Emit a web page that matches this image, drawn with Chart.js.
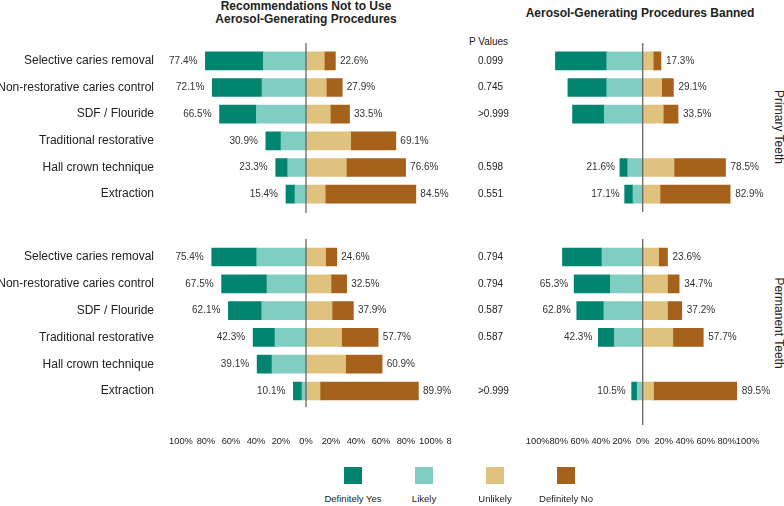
<!DOCTYPE html>
<html>
<head>
<meta charset="utf-8">
<script src="https://cdn.jsdelivr.net/npm/chart.js@4.4.1/dist/chart.umd.min.js"></script>
<style>
  html, body { margin:0; padding:0; background:#fff; }
  body { width:784px; height:506px; position:relative; overflow:hidden; font-family:"Liberation Sans", Arial, sans-serif; color:#222; }
  canvas { position:absolute; }
  .t { position:absolute; white-space:nowrap; color:#222; }
  .title { font-weight:bold; font-size:12px; line-height:13px; text-align:center; transform:translateX(-50%); }
  .side { font-size:12px; transform:translate(-50%,-50%) rotate(90deg); }
  .sw { position:absolute; width:18px; height:17px; }
  .lg { font-size:9.5px; line-height:12px; transform:translateX(-50%); }
</style>
</head>
<body>
<div class="t title" style="left:306px; top:-0.5px;">Recommendations Not to Use<br>Aerosol-Generating Procedures</div>
<div class="t title" style="left:640px; top:6.5px;">Aerosol-Generating Procedures Banned</div>
<div class="t" style="left:469px; top:36px; font-size:10px; line-height:12px;">P Values</div>
<div class="t side" style="left:779px; top:127px;">Primary Teeth</div>
<div class="t side" style="left:779px; top:323px;">Permanent Teeth</div>

<canvas id="lp" width="450" height="230" style="left:0px; top:0px;"></canvas>
<canvas id="lm" width="470" height="240" style="left:0px; top:220px;"></canvas>
<canvas id="rp" width="324" height="230" style="left:460px; top:0px;"></canvas>
<canvas id="rm" width="324" height="240" style="left:460px; top:220px;"></canvas>

<div id="legend"></div>

<script>
// ---------- DATA ----------
const categories = ['Selective caries removal','Non-restorative caries control','SDF / Flouride','Traditional restorative','Hall crown technique','Extraction'];
const seriesNames = ['Definitely Yes','Likely','Unlikely','Definitely No'];
const seriesColors = ['#018571','#80cdc1','#dfc27d','#a6611a'];

// Recommendations not to use AGP - primary teeth
const recPrimaryDefYes   = [44.6, 38.3, 28.3, 11.7,  9.2,  6.9];
const recPrimaryLikely   = [32.8, 33.8, 38.2, 19.2, 14.1,  8.5];
const recPrimaryUnlikely = [14.1, 15.6, 18.7, 34.4, 31.0, 14.8];
const recPrimaryDefNo    = [ 8.5, 12.3, 14.8, 34.7, 45.6, 69.7];
const recPrimaryYesLabels = [77.4, 72.1, 66.5, 30.9, 23.3, 15.4];
const recPrimaryNoLabels  = [22.6, 27.9, 33.5, 69.1, 76.6, 84.5];

// Recommendations not to use AGP - permanent teeth
const recPermDefYes   = [36.0, 36.3, 26.7, 17.5, 11.9,  6.9];
const recPermLikely   = [39.4, 31.2, 35.4, 24.8, 27.2,  3.2];
const recPermUnlikely = [15.7, 20.0, 20.8, 28.5, 31.7, 11.2];
const recPermDefNo    = [ 8.9, 12.5, 17.1, 29.2, 29.2, 78.7];
const recPermYesLabels = [75.4, 67.5, 62.1, 42.3, 39.1, 10.1];
const recPermNoLabels  = [24.6, 32.5, 37.9, 57.7, 60.9, 89.9];

// AGP banned - primary teeth
const banPrimaryDefYes   = [48.6, 36.8, 30.1, null,  7.4,  7.9];
const banPrimaryLikely   = [34.1, 34.1, 36.4, null, 14.2,  9.2];
const banPrimaryUnlikely = [10.0, 18.0, 19.5, null, 29.7, 16.4];
const banPrimaryDefNo    = [ 7.3, 11.1, 14.0, null, 48.8, 66.5];
const banPrimaryYesLabels = [null, null, null, null, 21.6, 17.1];
const banPrimaryNoLabels  = [17.3, 29.1, 33.5, null, 78.5, 82.9];

// AGP banned - permanent teeth
const banPermDefYes   = [37.6, 34.5, 25.9, 15.4, null,  5.3];
const banPermLikely   = [38.8, 30.8, 36.9, 26.9, null,  5.2];
const banPermUnlikely = [15.1, 23.6, 23.6, 28.7, null, 10.3];
const banPermDefNo    = [ 8.5, 11.1, 13.6, 29.0, null, 79.2];
const banPermYesLabels = [null, 65.3, 62.8, 42.3, null, 10.5];
const banPermNoLabels  = [23.6, 34.7, 37.2, 57.7, null, 89.5];

// P values
const pValuesPrimary   = ['0.099','0.745','>0.999','','0.598','0.551'];
const pValuesPermanent = ['0.794','0.794','0.587','0.587','','>0.999'];

// Axis ticks
const recTickValues = [-100,-80,-60,-40,-20,0,20,40,60,80,100,114.4];
const recTickLabels = ['100%','80%','60%','40%','20%','0%','20%','40%','60%','80%','100%','8'];
const banTickValues = [-100,-80,-60,-40,-20,0,20,40,60,80,100];
const banTickLabels = ['100%','80%','60%','40%','20%','0%','20%','40%','60%','80%','100%'];

// ---------- RENDER ----------
Chart.defaults.font.family = '"Liberation Sans", Arial, sans-serif';
Chart.defaults.color = '#222';

const neg = a => a.map(v => v == null ? null : -v);

const zeroLinePlugin = {
  id: 'zeroLine',
  afterDatasetsDraw(chart, args, o) {
    const x = chart.scales.x.getPixelForValue(0);
    const ca = chart.chartArea, ctx = chart.ctx;
    ctx.save();
    ctx.strokeStyle = '#666'; ctx.lineWidth = 1.3;
    ctx.beginPath();
    ctx.moveTo(x, ca.top - o.extTop);
    ctx.lineTo(x, ca.bottom + o.extBottom);
    ctx.stroke();
    ctx.restore();
  }
};

const barLabelPlugin = {
  id: 'barLabels',
  afterDatasetsDraw(chart, args, o) {
    const ctx = chart.ctx, xs = chart.scales.x, ys = chart.scales.y;
    const d = chart.data.datasets;
    ctx.save();
    ctx.font = '10px "Liberation Sans", Arial, sans-serif';
    ctx.fillStyle = '#333';
    ctx.textBaseline = 'middle';
    for (let i = 0; i < o.left.length; i++) {
      const y = ys.getPixelForValue(i);
      if (o.left[i] != null) {
        const ext = (d[0].data[i] || 0) + (d[1].data[i] || 0);
        ctx.textAlign = 'right';
        ctx.fillText(o.left[i].toFixed(1) + '%', xs.getPixelForValue(ext) - o.gapL, y);
      }
      if (o.right[i] != null) {
        const ext = (d[2].data[i] || 0) + (d[3].data[i] || 0);
        ctx.textAlign = 'left';
        ctx.fillText(o.right[i].toFixed(1) + '%', xs.getPixelForValue(ext) + o.gapR, y);
      }
    }
    ctx.restore();
  }
};

function makeChart(id, s) {
  const xOpts = {
    stacked: true, min: -100, max: s.xMax,
    display: s.showX,
    grid: { display: false, drawTicks: true, tickLength: 28 }, border: { display: false },
    ticks: {
      autoSkip: false, maxRotation: 0, padding: 3,
      font: { size: 9.3 }, color: '#222',
      callback: (v) => { const k = s.tickValues.indexOf(v); return k >= 0 ? s.tickLabels[k] : ''; }
    },
    afterBuildTicks: (sc) => { sc.ticks = s.tickValues.map(v => ({ value: v })); },
    afterFit: (sc) => { if (s.showX) sc.height = s.xHeight; }
  };
  return new Chart(document.getElementById(id), {
    type: 'bar',
    data: {
      labels: s.yLabels,
      datasets: [
        { label: seriesNames[1], data: neg(s.likely),  backgroundColor: seriesColors[1] },
        { label: seriesNames[0], data: neg(s.defYes),  backgroundColor: seriesColors[0] },
        { label: seriesNames[2], data: s.unlikely,     backgroundColor: seriesColors[2] },
        { label: seriesNames[3], data: s.defNo,        backgroundColor: seriesColors[3] }
      ].map(ds => Object.assign(ds, { barThickness: 18, borderWidth: 0 }))
    },
    options: {
      indexAxis: 'y',
      responsive: false,
      animation: false,
      devicePixelRatio: 1,
      layout: { padding: s.padding },
      scales: {
        x: xOpts,
        y: {
          stacked: true,
          grid: { display: false, drawTicks: true, tickLength: s.yPad }, border: { display: false },
          ticks: { padding: 0, crossAlign: s.crossAlign, font: { size: s.yFont }, color: '#222' },
          afterFit: (sc) => { sc.width = s.yWidth; }
        }
      },
      plugins: {
        legend: { display: false },
        tooltip: { enabled: false },
        zeroLine: s.zero,
        barLabels: { left: s.yesLabels, right: s.noLabels, gapL: s.gapL, gapR: s.gapR }
      }
    },
    plugins: [zeroLinePlugin, barLabelPlugin]
  });
}

makeChart('lp', {
  yLabels: categories, defYes: recPrimaryDefYes, likely: recPrimaryLikely, unlikely: recPrimaryUnlikely, defNo: recPrimaryDefNo,
  yesLabels: recPrimaryYesLabels, noLabels: recPrimaryNoLabels,
  xMax: 100, showX: false, tickValues: recTickValues, tickLabels: recTickLabels,
  padding: { top: 47.5, bottom: 22.5, left: 0, right: 14 },
  yWidth: 176, yPad: 22, crossAlign: 'near', yFont: 12,
  zero: { extTop: 4.5, extBottom: 5.5 }, gapL: 8, gapR: 4.5
});

makeChart('lm', {
  yLabels: categories, defYes: recPermDefYes, likely: recPermLikely, unlikely: recPermUnlikely, defNo: recPermDefNo,
  yesLabels: recPermYesLabels, noLabels: recPermNoLabels,
  xMax: 114.4, showX: true, xHeight: 55.6, tickValues: recTickValues, tickLabels: recTickLabels,
  padding: { top: 23.6, bottom: 0, left: 0, right: 21 },
  yWidth: 181, yPad: 27, crossAlign: 'near', yFont: 12,
  zero: { extTop: 4.6, extBottom: 2.6 }, gapL: 8, gapR: 4.5
});

makeChart('rp', {
  yLabels: pValuesPrimary, defYes: banPrimaryDefYes, likely: banPrimaryLikely, unlikely: banPrimaryUnlikely, defNo: banPrimaryDefNo,
  yesLabels: banPrimaryYesLabels, noLabels: banPrimaryNoLabels,
  xMax: 100, showX: false, tickValues: banTickValues, tickLabels: banTickLabels,
  padding: { top: 47.5, bottom: 22.5, left: 18, right: 35.8 },
  yWidth: 59.2, yPad: 0, crossAlign: 'far', yFont: 10,
  zero: { extTop: 4.5, extBottom: 4.5 }, gapL: 5, gapR: 5
});

makeChart('rm', {
  yLabels: pValuesPermanent, defYes: banPermDefYes, likely: banPermLikely, unlikely: banPermUnlikely, defNo: banPermDefNo,
  yesLabels: banPermYesLabels, noLabels: banPermNoLabels,
  xMax: 100, showX: true, xHeight: 55.6, tickValues: banTickValues, tickLabels: banTickLabels,
  padding: { top: 23.6, bottom: 0, left: 18, right: 36.3 },
  yWidth: 59.7, yPad: 0, crossAlign: 'far', yFont: 10,
  zero: { extTop: 4.6, extBottom: 20.6 }, gapL: 6, gapR: 5
});

// Legend
const legendX = [353, 424, 495, 566];
const lg = document.getElementById('legend');
seriesNames.forEach((n, i) => {
  const sw = document.createElement('div');
  sw.className = 'sw';
  sw.style.left = (legendX[i] - 9) + 'px';
  sw.style.top = '467px';
  sw.style.background = seriesColors[i];
  lg.appendChild(sw);
  const t = document.createElement('div');
  t.className = 't lg';
  t.style.left = legendX[i] + 'px';
  t.style.top = '493px';
  t.textContent = n;
  lg.appendChild(t);
});
</script>
</body>
</html>
